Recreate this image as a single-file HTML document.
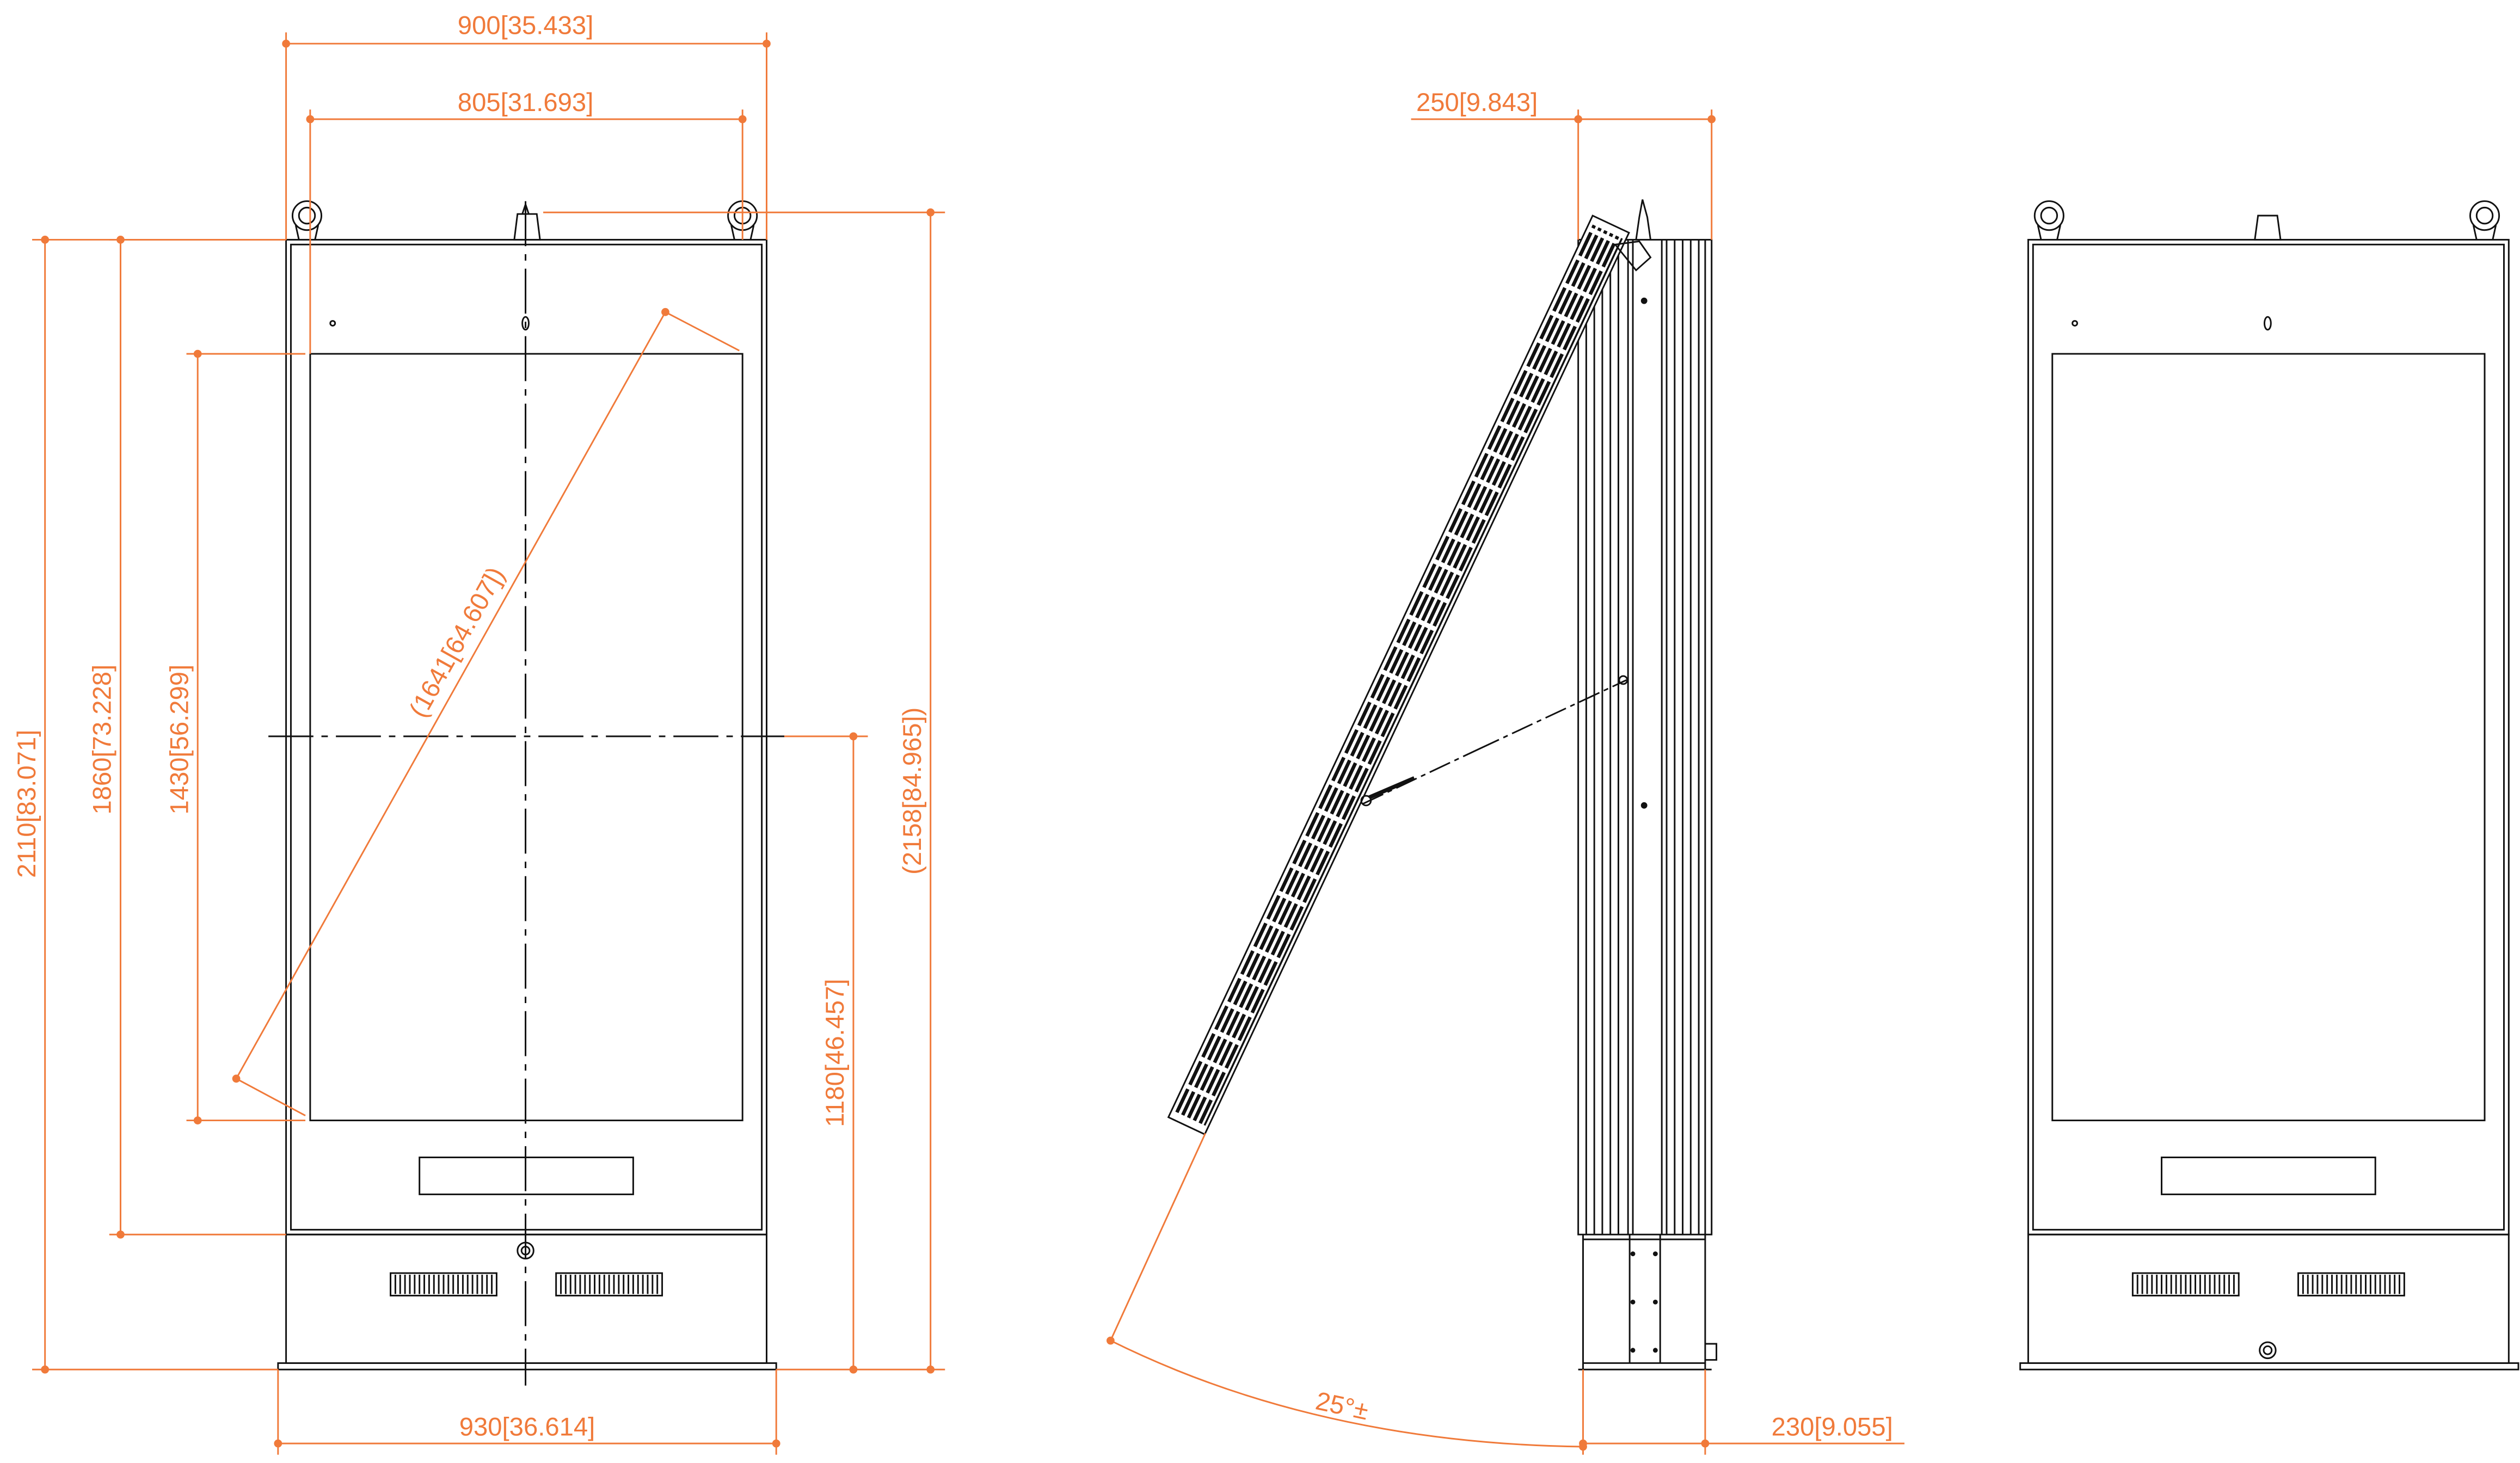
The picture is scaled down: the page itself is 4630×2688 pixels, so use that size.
<!DOCTYPE html>
<html><head><meta charset="utf-8"><style>
html,body{margin:0;padding:0;background:#fff;width:4630px;height:2688px;overflow:hidden}
svg{display:block}
text{font-family:"Liberation Sans",sans-serif;fill:#f07a3a;font-size:16px}
.o{stroke:#f07a3a;stroke-width:1;fill:none}
.k{stroke:#111;stroke-width:1;fill:none}
.d{fill:#f07a3a}
</style></head><body>
<svg width="4630" height="2688" viewBox="0 0 1568 910" xmlns="http://www.w3.org/2000/svg">
<defs>
<g id="front">
 <rect x="178" y="149" width="299" height="619" class="k" stroke-width="1.5"/>
 <rect x="181" y="152" width="293" height="613" class="k"/>
 <rect x="193" y="220" width="269" height="477" class="k"/>
 <rect x="261" y="720" width="133" height="23" class="k"/>
 <rect x="178" y="768" width="299" height="80" class="k"/>
 <rect x="173" y="848" width="310" height="4" class="k"/>
 <rect x="243" y="792" width="66" height="14" class="k"/>
 <rect x="346" y="792" width="66" height="14" class="k"/>
 <path d="M246 793V805M249 793V805M252 793V805M255 793V805M258 793V805M261 793V805M264 793V805M267 793V805M270 793V805M273 793V805M276 793V805M279 793V805M282 793V805M285 793V805M288 793V805M291 793V805M294 793V805M297 793V805M300 793V805M303 793V805M306 793V805" class="k"/>
 <path d="M349 793V805M352 793V805M355 793V805M358 793V805M361 793V805M364 793V805M367 793V805M370 793V805M373 793V805M376 793V805M379 793V805M382 793V805M385 793V805M388 793V805M391 793V805M394 793V805M397 793V805M400 793V805M403 793V805M406 793V805M409 793V805" class="k"/>
 <circle cx="191" cy="134" r="9" class="k"/><circle cx="191" cy="134" r="5" class="k"/>
 <path d="M184 140L186 149M198 140L196 149" class="k"/>
 <circle cx="462" cy="134" r="9" class="k"/><circle cx="462" cy="134" r="5" class="k"/>
 <path d="M455 140L457 149M469 140L467 149" class="k"/>
 <circle cx="207" cy="201" r="1.5" class="k"/>
</g>
</defs>
<use href="#front"/>
<path d="M320 149L322 133H334L336 149Z" class="k"/><path d="M325 133L327 127L329 133" class="k"/>
<ellipse cx="327" cy="201" rx="2" ry="4" class="k"/>
<circle cx="327" cy="778" r="5" class="k"/><circle cx="327" cy="778" r="2.5" class="k"/>
<path d="M327 125V862" class="k" stroke-dasharray="28 5 4 5"/>
<path d="M167 458H488" class="k" stroke-dasharray="28 5 4 5"/>
<path d="M178 20V149M477 20V149M178 27H477" class="o"/>
<circle cx="178" cy="27" r="2.5" class="d"/><circle cx="477" cy="27" r="2.5" class="d"/>
<text x="327" y="21" text-anchor="middle">900[35.433]</text>
<path d="M193 68V220M462 68V149M193 74H462" class="o"/>
<circle cx="193" cy="74" r="2.5" class="d"/><circle cx="462" cy="74" r="2.5" class="d"/>
<text x="327" y="69" text-anchor="middle">805[31.693]</text>
<path d="M20 149H178M28 149V852M20 852H173" class="o"/>
<circle cx="28" cy="149" r="2.5" class="d"/><circle cx="28" cy="852" r="2.5" class="d"/>
<text transform="translate(22,500) rotate(-90)" text-anchor="middle">2110[83.071]</text>
<path d="M68 149H178M75 149V768M68 768H178" class="o"/>
<circle cx="75" cy="149" r="2.5" class="d"/><circle cx="75" cy="768" r="2.5" class="d"/>
<text transform="translate(69,460) rotate(-90)" text-anchor="middle">1860[73.228]</text>
<path d="M116 220H190M123 220V697M116 697H190" class="o"/>
<circle cx="123" cy="220" r="2.5" class="d"/><circle cx="123" cy="697" r="2.5" class="d"/>
<text transform="translate(117,460) rotate(-90)" text-anchor="middle">1430[56.299]</text>
<path d="M488 458H540M531 458V852M483 852H540" class="o"/>
<circle cx="531" cy="458" r="2.5" class="d"/><circle cx="531" cy="852" r="2.5" class="d"/>
<text transform="translate(525,655) rotate(-90)" text-anchor="middle">1180[46.457]</text>
<path d="M338 132H588M579 132V852M540 852H588" class="o"/>
<circle cx="579" cy="132" r="2.5" class="d"/><circle cx="579" cy="852" r="2.5" class="d"/>
<text transform="translate(573,492) rotate(-90)" text-anchor="middle">(2158[84.965])</text>
<path d="M173 852V905M483 852V905M173 898H483" class="o"/>
<circle cx="173" cy="898" r="2.5" class="d"/><circle cx="483" cy="898" r="2.5" class="d"/>
<text x="328" y="893" text-anchor="middle">930[36.614]</text>
<path d="M147 671L414 194M414 194L460 218M147 671L190 694" class="o"/>
<circle cx="147" cy="671" r="2.5" class="d"/><circle cx="414" cy="194" r="2.5" class="d"/>
<text transform="translate(289,402) rotate(-60.8)" text-anchor="middle">(1641[64.607])</text>

<rect x="982" y="149" width="83" height="619" class="k"/>
<path d="M987 149V768M992 149V768M997 149V768M1002 149V768M1007 149V768M1013 149V768M1016 149V768M1034 149V768M1037 149V768M1042 149V768M1047 149V768M1052 149V768M1057 149V768M1061 149V768" class="k" stroke-width="0.8"/>
<path d="M985 768V852M1061 768V852M982 852H1065M1014 768V848M1033 768V848M985 771H1061M985 848H1061" class="k"/>
<path d="M1061 836h7v10h-7" class="k"/>
<circle cx="1023" cy="187" r="2" fill="#111"/><circle cx="1023" cy="501" r="2" fill="#111"/>
<circle cx="1016" cy="780" r="1.5" fill="#111"/><circle cx="1030" cy="780" r="1.5" fill="#111"/>
<circle cx="1016" cy="810" r="1.5" fill="#111"/><circle cx="1030" cy="810" r="1.5" fill="#111"/>
<circle cx="1016" cy="840" r="1.5" fill="#111"/><circle cx="1030" cy="840" r="1.5" fill="#111"/>
<path d="M1018 149L1020 135L1022 124L1025 135L1027 149" class="k"/>
<g transform="translate(727,695) rotate(-64.8)">
 <rect x="0" y="0" width="620" height="25" style="fill:#fff;stroke:#111;stroke-width:1"/>
 <path d="M5 3.5H615M5 7.5H615M5 11.5H615M5 15.5H615M5 19.5H615" stroke="#111" stroke-width="2.2" fill="none" stroke-dasharray="16 3"/>
 <path d="M5 22.5H615" stroke="#111" stroke-width="1.2" fill="none"/>
</g>
<path d="M1005 152L1020 150L1027 160L1018 168Z" class="k"/>
<path d="M848 500L920 466M920 466L1012 423" class="k" stroke-dasharray="14 3 3 3"/>
<path d="M852 496L880 484" stroke="#111" stroke-width="2.5"/>
<circle cx="850" cy="498" r="3" class="k"/><circle cx="1010" cy="423" r="2.5" class="k"/>
<path d="M982 68V149M1065 68V149M878 74H1065" class="o"/>
<circle cx="982" cy="74" r="2.5" class="d"/><circle cx="1065" cy="74" r="2.5" class="d"/>
<text x="919" y="69" text-anchor="middle">250[9.843]</text>
<path d="M985 852V905M1061 852V905M985 898H1185" class="o"/>
<circle cx="985" cy="898" r="2.5" class="d"/><circle cx="1061" cy="898" r="2.5" class="d"/>
<text x="1140" y="893" text-anchor="middle">230[9.055]</text>
<path d="M750 705L691 834" class="o"/>
<path d="M691 834Q820 898 985 900" class="o"/>
<circle cx="691" cy="834" r="2.5" class="d"/><circle cx="985" cy="900" r="2.5" class="d"/>
<text x="835" y="880" text-anchor="middle" transform="rotate(12 835 875)">25°±</text>

<use href="#front" transform="translate(1084,0)"/>
<path d="M1403 149L1405 134H1417L1419 149Z" class="k"/>
<ellipse cx="1411" cy="201" rx="2" ry="4" class="k"/>
<circle cx="1411" cy="840" r="5" class="k"/><circle cx="1411" cy="840" r="2.5" class="k"/>
</svg>
</body></html>
